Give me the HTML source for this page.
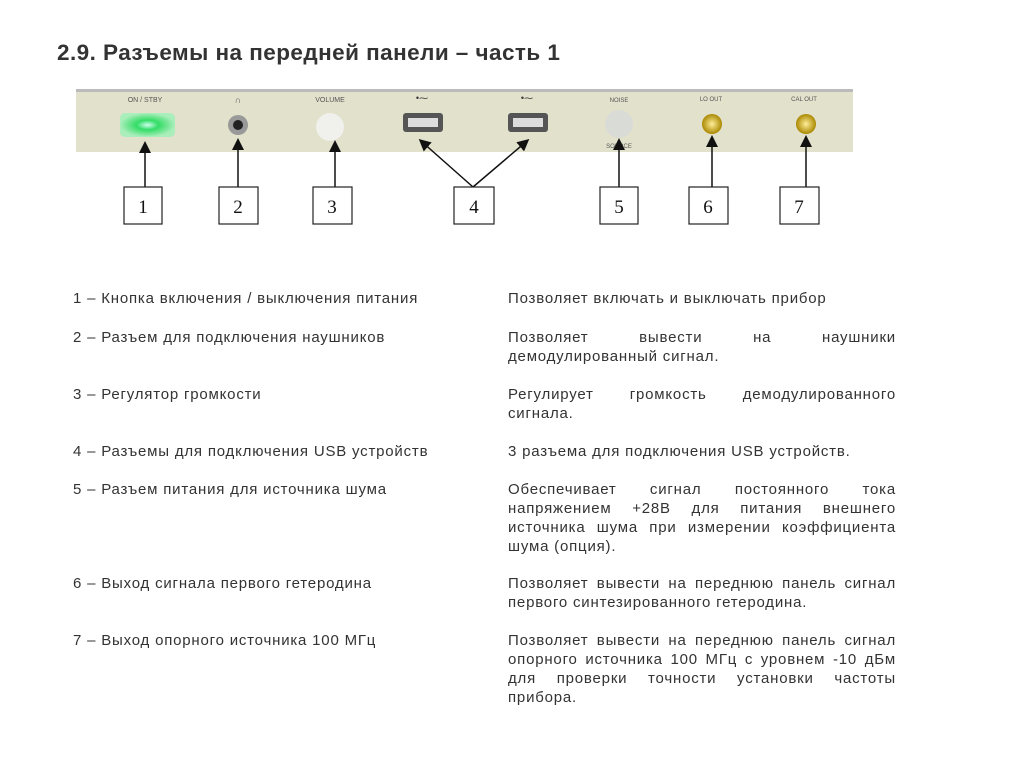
<!DOCTYPE html>
<html><head><meta charset="utf-8"><style>
body{margin:0;width:1024px;height:767px;background:#fff;position:relative;overflow:hidden;font-family:"Liberation Sans",sans-serif;}
.t{position:absolute;left:57px;top:40px;font-size:22.5px;font-weight:bold;color:#333;letter-spacing:0.45px;}
.l{position:absolute;left:73px;font-size:15px;letter-spacing:0.8px;color:#333;line-height:19px;white-space:nowrap;}
.r{position:absolute;left:508px;width:388px;font-size:15px;letter-spacing:0.8px;color:#333;line-height:19px;text-align:justify;text-align-last:left;}
</style></head><body>
<div class="t">2.9. Разъемы на передней панели – часть 1</div>
<svg width="1024" height="260" style="position:absolute;left:0;top:0">
<defs>
<marker id="a" markerWidth="8" markerHeight="8" refX="6" refY="4" orient="auto"><path d="M0,0 L8,4 L0,8 z" fill="#111"/></marker>
<radialGradient id="g"><stop offset="0" stop-color="#cfe"/><stop offset="0.4" stop-color="#3d6"/><stop offset="1" stop-color="#aeb"/></radialGradient>
<radialGradient id="au"><stop offset="0" stop-color="#fe9"/><stop offset="1" stop-color="#a80"/></radialGradient>
</defs>
<rect x="76" y="89" width="777" height="63" fill="#e2e1cc"/>
<rect x="76" y="89" width="777" height="3" fill="#bbb"/>
<text x="145" y="102" font-size="7" fill="#555" text-anchor="middle" font-family="Liberation Sans">ON / STBY</text>
<rect x="120" y="113" width="55" height="24" rx="5" fill="url(#g)"/>
<circle cx="238" cy="125" r="10" fill="#999"/><circle cx="238" cy="125" r="5" fill="#222"/>
<text x="238" y="103" font-size="9" fill="#555" text-anchor="middle">∩</text>
<text x="330" y="102" font-size="7" fill="#555" text-anchor="middle">VOLUME</text>
<circle cx="330" cy="127" r="14" fill="#f0f0ec"/>
<text x="422" y="101" font-size="9" fill="#333" text-anchor="middle">•⁓</text>
<text x="527" y="101" font-size="9" fill="#333" text-anchor="middle">•⁓</text>
<rect x="403" y="113" width="40" height="19" rx="3" fill="#555"/><rect x="408" y="118" width="30" height="9" fill="#ddd"/>
<rect x="508" y="113" width="40" height="19" rx="3" fill="#555"/><rect x="513" y="118" width="30" height="9" fill="#ddd"/>
<text x="619" y="102" font-size="6" fill="#555" text-anchor="middle">NOISE</text>
<circle cx="619" cy="124" r="14" fill="#d9dcd6"/>
<text x="619" y="148" font-size="6" fill="#555" text-anchor="middle">SOURCE</text>
<text x="711" y="101" font-size="6" fill="#555" text-anchor="middle">LO OUT</text>
<circle cx="712" cy="124" r="10" fill="url(#au)"/>
<text x="804" y="101" font-size="6" fill="#555" text-anchor="middle">CAL OUT</text>
<circle cx="806" cy="124" r="10" fill="url(#au)"/>
<g stroke="#111" stroke-width="1.5" marker-end="url(#a)">
<line x1="145" y1="187" x2="145" y2="144"/>
<line x1="238" y1="187" x2="238" y2="141"/>
<line x1="335" y1="187" x2="335" y2="143"/>
<line x1="473" y1="187" x2="421" y2="141"/>
<line x1="473" y1="187" x2="527" y2="141"/>
<line x1="619" y1="187" x2="619" y2="141"/>
<line x1="712" y1="187" x2="712" y2="138"/>
<line x1="806" y1="187" x2="806" y2="138"/>
</g>
<g fill="#fff" stroke="#222" stroke-width="1.2">
<rect x="124" y="187" width="38" height="37"/><rect x="219" y="187" width="39" height="37"/>
<rect x="313" y="187" width="39" height="37"/><rect x="454" y="187" width="40" height="37"/>
<rect x="600" y="187" width="38" height="37"/><rect x="689" y="187" width="39" height="37"/>
<rect x="780" y="187" width="39" height="37"/>
</g>
<g font-family="Liberation Serif" font-size="19" fill="#111" text-anchor="middle">
<text x="143" y="213">1</text><text x="238" y="213">2</text><text x="332" y="213">3</text>
<text x="474" y="213">4</text><text x="619" y="213">5</text><text x="708" y="213">6</text><text x="799" y="213">7</text>
</g>
</svg>
<div class="l" style="top:289px">1 – Кнопка включения / выключения питания</div>
<div class="r" style="top:289px">Позволяет включать и выключать прибор</div>
<div class="l" style="top:328px">2 – Разъем для подключения наушников</div>
<div class="r" style="top:328px">Позволяет вывести на наушники демодулированный сигнал.</div>
<div class="l" style="top:385px">3 – Регулятор громкости</div>
<div class="r" style="top:385px">Регулирует громкость демодулированного сигнала.</div>
<div class="l" style="top:442px">4 – Разъемы для подключения USB устройств</div>
<div class="r" style="top:442px">3 разъема для подключения USB устройств.</div>
<div class="l" style="top:480px">5 – Разъем питания для источника шума</div>
<div class="r" style="top:480px">Обеспечивает сигнал постоянного тока напряжением +28В для питания внешнего источника шума при измерении коэффициента шума (опция).</div>
<div class="l" style="top:574px">6 – Выход сигнала первого гетеродина</div>
<div class="r" style="top:574px">Позволяет вывести на переднюю панель сигнал первого синтезированного гетеродина.</div>
<div class="l" style="top:631px">7 – Выход опорного источника 100 МГц</div>
<div class="r" style="top:631px">Позволяет вывести на переднюю панель сигнал опорного источника 100 МГц с уровнем -10 дБм для проверки точности установки частоты прибора.</div>
</body></html>
